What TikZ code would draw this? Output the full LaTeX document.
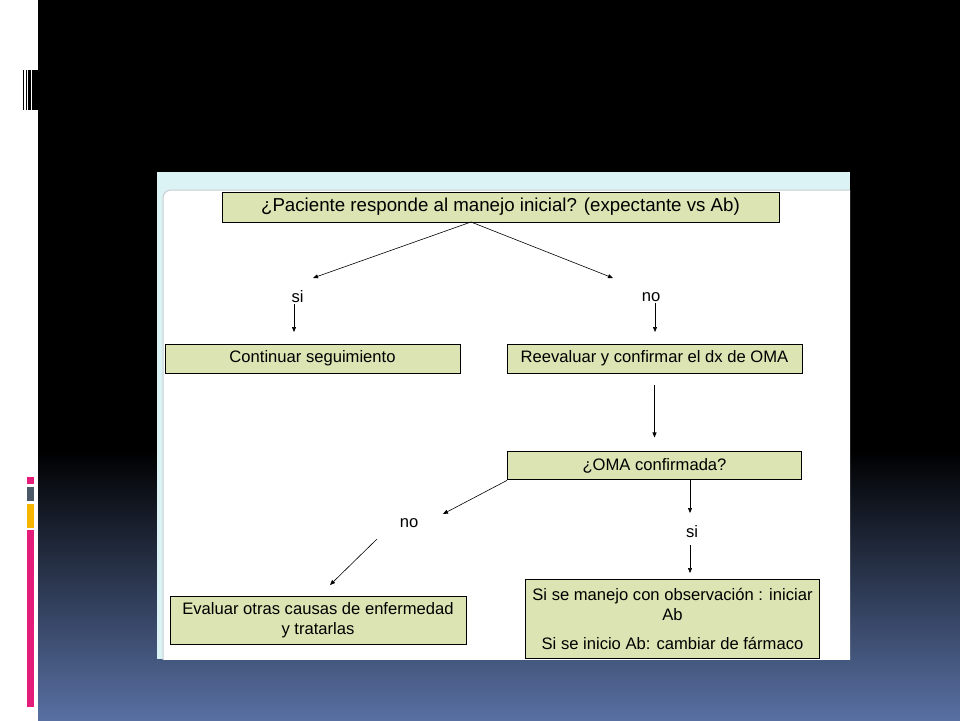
\documentclass[tikz,border=0pt]{standalone}
\usepackage{fontspec}
\setmainfont{Liberation Sans}
\usetikzlibrary{positioning,arrows.meta}
\definecolor{boxgreen}{RGB}{219,228,178}
\definecolor{bandcyan}{RGB}{220,243,246}
\definecolor{slideblue}{RGB}{88,112,162}
\definecolor{barpink}{RGB}{228,28,122}
\definecolor{bargray}{RGB}{74,88,104}
\definecolor{barorange}{RGB}{246,182,0}
\definecolor{rimgray}{RGB}{196,206,210}

\begin{document}
\begin{tikzpicture}[
    x=1pt, y=-1pt,
    every node/.style={font=\fontsize{16.6}{20}\selectfont},
    box/.style={rectangle, draw=black, line width=0.9pt, fill=boxgreen, align=center, inner sep=0pt},
    answer/.style={inner sep=1pt},
    arrow/.style={->, >={Triangle[length=5pt,width=4pt]}, line width=0.6pt}
]

%% ---- Slide background ----
\useasboundingbox (0,0) rectangle (960,720);
\fill[white] (0,0) rectangle (960,720);
\fill[black] (38,0) rectangle (960,450);
\shade[top color=black, bottom color=slideblue] (38,450) rectangle (960,720);

%% ---- Left strip marks ----
\fill[black] (23,70) rectangle (24.3,110);
\fill[black] (26,70) rectangle (27,110);
\fill[black] (28,70) rectangle (30.7,110);
\fill[black] (31.7,70) rectangle (38,110);
\fill[barpink] (27,477) rectangle (34,484);
\fill[bargray] (27,487) rectangle (34,501);
\fill[barorange] (27,504) rectangle (34,528);
\fill[barpink] (27,530) rectangle (34,707);

%% ---- Panel ----
\fill[bandcyan] (157,172) rectangle (850,659);
\begin{scope}
  \clip (157,172) rectangle (850,659);
  \fill[white, rounded corners=8pt] (163,190) rectangle (870,680);
  \draw[rimgray, line width=1pt, rounded corners=8pt] (163,190) rectangle (870,680);
\end{scope}

%% ---- Boxes ----
\node[box, minimum width=557pt, minimum height=30pt, font=\fontsize{18.7}{22}\selectfont] (q1) at (500.5,207) {¿Paciente responde al manejo inicial? (expectante vs Ab)};
\node[box, minimum width=295pt, minimum height=29pt] (cont) at (312.5,358.5) {Continuar seguimiento};
\node[box, minimum width=295pt, minimum height=29pt] (reeval) at (654.5,358.5) {Reevaluar y confirmar el dx de OMA};
\node[box, minimum width=294pt, minimum height=28pt, below=78pt of reeval] (q2) {¿OMA confirmada?};
\node[box, minimum width=296pt, minimum height=48pt] (evaluar) at (318,620) {Evaluar otras causas de enfermedad\\y tratarlas};
\node[box, minimum width=294pt, minimum height=79pt] (manejo) at (672.5,618.5) {Si se manejo con observación : iniciar\\Ab\\[9pt]Si se inicio Ab: cambiar de fármaco};

%% ---- Answers ----
\node[answer] (si1) at (297.5,297) {si};
\node[answer] (no1) at (651,297) {no};
\node[answer] (no2) at (409,523) {no};
\node[answer] (si2) at (692,532) {si};

%% ---- Arrow ends ----
\coordinate (fork) at (471,222);
\coordinate (siTip) at (313,278);
\coordinate (noTip) at (613,278);
\coordinate (siDown) at (294,332);
\coordinate (noDown) at (655,332);
\coordinate (no2Tip) at (443,514);
\coordinate (no2Tail) at (377,539);
\coordinate (evTip) at (330,585);
\coordinate (si2Top) at (690,480);
\coordinate (si2Tip) at (690,513);
\coordinate (si2Tail) at (690,545);
\coordinate (mjTip) at (690,573);

%% ---- First decision ----
\draw[arrow] (fork) -- (siTip);
\draw[arrow] (fork) -- (noTip);
\draw[arrow] (siDown |- si1.south) -- (siDown);
\draw[arrow] (noDown |- no1.south) -- (noDown);
\draw[arrow, shorten <=12pt, shorten >=14pt] (reeval.south) -- (q2.north);

%% ---- Second decision ----
\draw[arrow] (q2.south west) -- (no2Tip);
\draw[arrow] (no2Tail) -- (evTip);
\draw[arrow] (si2Top) -- (si2Tip);
\draw[arrow] (si2Tail) -- (mjTip);

\end{tikzpicture}
\end{document}
